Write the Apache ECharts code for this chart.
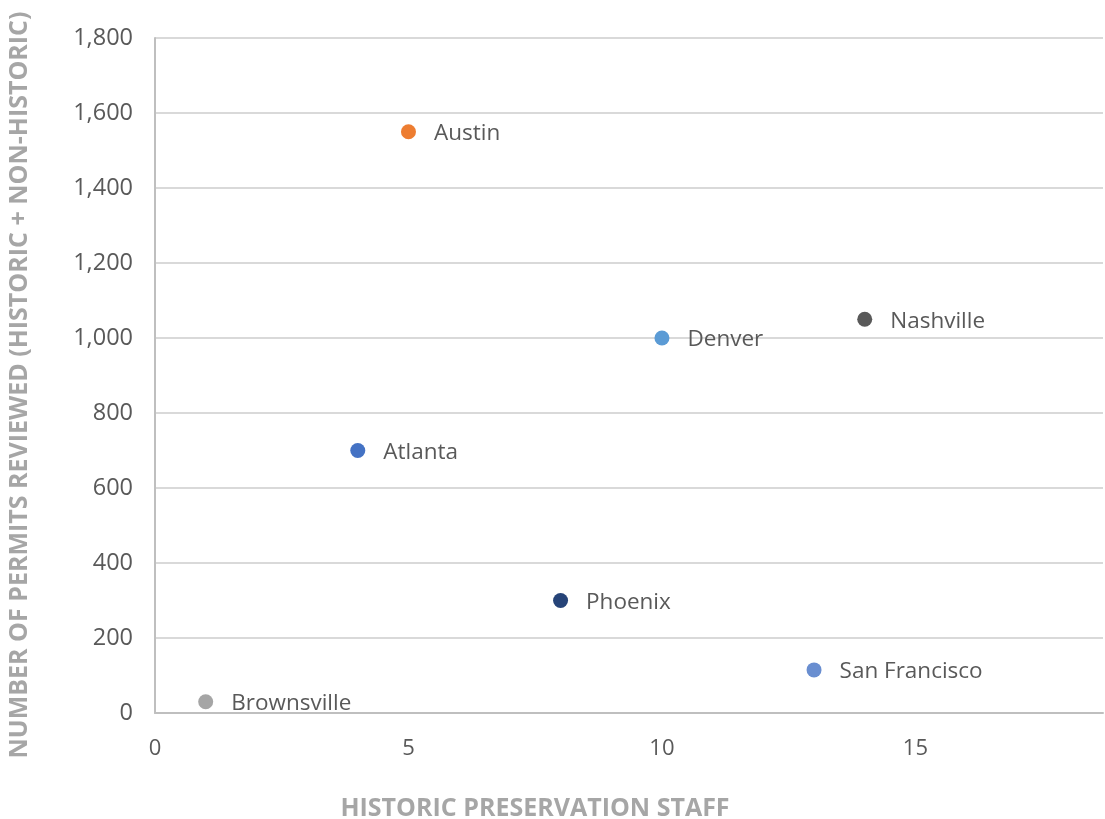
<!DOCTYPE html>
<html>
<head>
<meta charset="utf-8">
<script src="https://cdn.jsdelivr.net/npm/echarts@6/dist/echarts.min.js"></script>
<style>html,body{margin:0;padding:0;background:#fff}#c{width:1105px;height:819px}</style>
</head>
<body>
<div id="c"></div>
<script>
const cities = ["Austin", "Denver", "Nashville", "Atlanta", "Phoenix", "San Francisco", "Brownsville"];
const staff = [5, 10, 14, 4, 8, 13, 1];
const permits = [1550, 1000, 1050, 700, 300, 115, 30];
const pointColors = ["#ED7D31", "#5B9BD5", "#595959", "#4472C4", "#264478", "#698ED0", "#A5A5A5"];

const chart = echarts.init(document.getElementById('c'));
const font = "'Open Sans', 'Noto Sans', sans-serif";
chart.setOption({
  animation: false,
  grid: { left: 155, right: 2, top: 38, bottom: 106, containLabel: false, outerBoundsMode: 'none' },
  xAxis: {
    type: 'value', min: 0, max: 18.7, interval: 5,
    name: 'HISTORIC PRESERVATION STAFF', nameLocation: 'middle', nameGap: 83,
    nameTextStyle: { color: '#A6A6A6', fontSize: 25, fontWeight: 'bold', fontFamily: font, padding: [0, 188, 0, 0] },
    axisLine: { show: true, lineStyle: { color: '#BFBFBF', width: 2 } },
    axisTick: { show: false },
    splitLine: { show: false },
    axisLabel: { color: '#595959', fontSize: 22, fontFamily: font, margin: 25, showMaxLabel: false,
      formatter: v => v.toLocaleString('en-US') }
  },
  yAxis: {
    type: 'value', min: 0, max: 1800, interval: 200,
    name: 'NUMBER OF PERMITS REVIEWED (HISTORIC + NON-HISTORIC)', nameLocation: 'middle', nameGap: 123,
    nameTextStyle: { color: '#A6A6A6', fontSize: 25, fontWeight: 'bold', fontFamily: font, padding: [0, 19, 0, 0] },
    axisLine: { show: true, lineStyle: { color: '#BFBFBF', width: 2 } },
    axisTick: { show: false },
    splitLine: { show: true, lineStyle: { color: '#D9D9D9', width: 2 } },
    axisLabel: { color: '#595959', fontSize: 23.5, fontFamily: font, margin: 22,
      formatter: v => v.toLocaleString('en-US') }
  },
  series: [{
    type: 'scatter',
    symbolSize: 15,
    data: cities.map((c, i) => ({ name: c, value: [staff[i], permits[i]], itemStyle: { color: pointColors[i], opacity: 1 } })),
    label: { show: true, position: 'right', distance: 18, offset: [0, 2], formatter: p => p.name,
      color: '#595959', fontSize: 22.5, fontFamily: font }
  }]
});
</script>
</body>
</html>
